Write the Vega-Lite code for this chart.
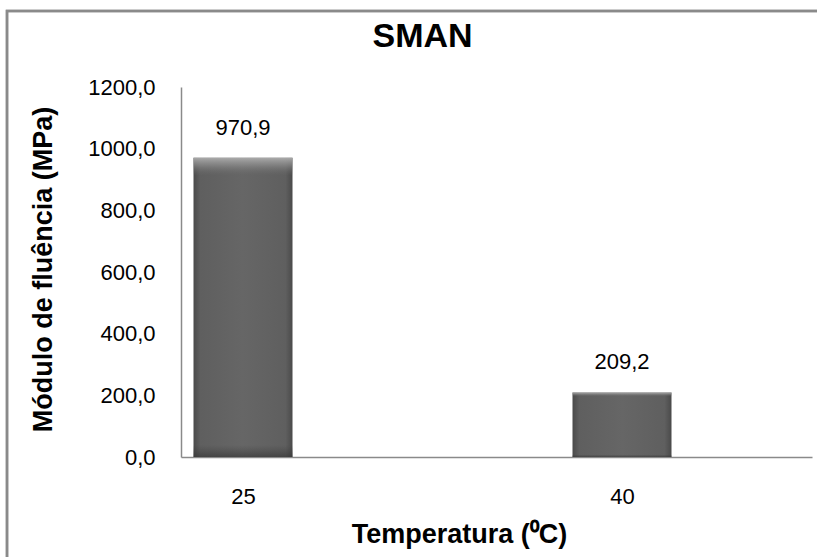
{
  "$schema": "https://vega.github.io/schema/vega-lite/v6.json",
  "autosize": {"type": "none"},
  "padding": {"left": 181, "top": 87, "right": 5, "bottom": 100},
  "width": 631,
  "height": 370,
  "background": "white",
  "config": {"view": {"stroke": null}, "font": "Liberation Sans"},
  "title": {
    "text": "SMAN",
    "font": "Liberation Sans",
    "fontSize": 34,
    "fontWeight": "bold",
    "color": "black",
    "anchor": "middle",
    "dx": -74,
    "offset": -44
  },
  "data": {
    "values": [
      {"temperatura": 25, "modulo": 970.9},
      {"temperatura": 40, "modulo": 209.2}
    ]
  },
  "layer": [
    {
      "mark": {"type": "rect", "filled": false, "stroke": "#8a8a8a", "strokeWidth": 2.5, "clip": false},
      "encoding": {
        "x": {"datum": 15.66, "type": "quantitative"},
        "x2": {"datum": 70},
        "y": {"datum": 1446.5, "type": "quantitative"},
        "y2": {"datum": -600}
      }
    },
    {
      "mark": {
        "type": "bar",
        "size": 99,
        "orient": "vertical",
        "color": {
          "gradient": "linear", "x1": 0, "y1": 0, "x2": 1, "y2": 0,
          "stops": [
            {"offset": 0, "color": "#4a4a4a"},
            {"offset": 0.07, "color": "#5f5f5f"},
            {"offset": 0.5, "color": "#666666"},
            {"offset": 0.93, "color": "#5f5f5f"},
            {"offset": 1, "color": "#4a4a4a"}
          ]
        }
      },
      "encoding": {
        "x": {
          "field": "temperatura",
          "type": "quantitative",
          "scale": {"domain": [22.546, 47.52], "nice": false, "zero": false, "padding": 0},
          "axis": {
            "title": "Temperatura (⁰C)",
            "values": [25, 40],
            "format": "d",
            "grid": false,
            "ticks": false,
            "tickSize": 0,
            "domainColor": "#8a8a8a",
            "domainWidth": 1.5,
            "labelFont": "Liberation Sans",
            "labelFontSize": 22,
            "labelColor": "black",
            "labelPadding": 29,
            "titleFont": "Liberation Sans",
            "titleFontSize": 27,
            "titleFontWeight": "bold",
            "titleColor": "black",
            "titleX": 278,
            "titleY": 85,
            "titleAlign": "center",
            "titleBaseline": "alphabetic"
          }
        },
        "y": {
          "field": "modulo",
          "type": "quantitative",
          "scale": {"domain": [0, 1200], "nice": false, "padding": 0},
          "axis": {
            "title": "Módulo de fluência (MPa)",
            "values": [0, 200, 400, 600, 800, 1000, 1200],
            "labelExpr": "replace(format(datum.value, '.1f'), '.', ',')",
            "grid": false,
            "ticks": false,
            "tickSize": 0,
            "domainColor": "#8a8a8a",
            "domainWidth": 1.5,
            "labelFont": "Liberation Sans",
            "labelFontSize": 22,
            "labelColor": "black",
            "labelPadding": 26,
            "titleFont": "Liberation Sans",
            "titleFontSize": 27,
            "titleFontWeight": "bold",
            "titleColor": "black",
            "titleX": -138,
            "titleY": 182,
            "titleAngle": 270,
            "titleAlign": "center",
            "titleBaseline": "middle"
          }
        }
      }
    },
    {
      "mark": {
        "type": "bar",
        "size": 99,
        "orient": "vertical",
        "color": {
          "gradient": "linear", "x1": 0, "y1": 0, "x2": 0, "y2": 1,
          "stops": [
            {"offset": 0, "color": "rgba(175,175,175,0.95)"},
            {"offset": 0.025, "color": "rgba(150,150,150,0.6)"},
            {"offset": 0.06, "color": "rgba(110,110,110,0)"},
            {"offset": 0.96, "color": "rgba(60,60,60,0)"},
            {"offset": 1, "color": "rgba(50,50,50,0.6)"}
          ]
        }
      },
      "encoding": {
        "x": {"field": "temperatura", "type": "quantitative"},
        "y": {"field": "modulo", "type": "quantitative"}
      }
    },
    {
      "mark": {
        "type": "text",
        "font": "Liberation Sans",
        "fontSize": 22,
        "color": "black",
        "baseline": "alphabetic",
        "align": "center",
        "dy": -23
      },
      "encoding": {
        "x": {"field": "temperatura", "type": "quantitative"},
        "y": {"field": "modulo", "type": "quantitative"},
        "text": {"field": "modulo_label", "type": "nominal"}
      },
      "transform": [
        {"calculate": "replace(format(datum.modulo, '.1f'), '.', ',')", "as": "modulo_label"}
      ]
    }
  ]
}
